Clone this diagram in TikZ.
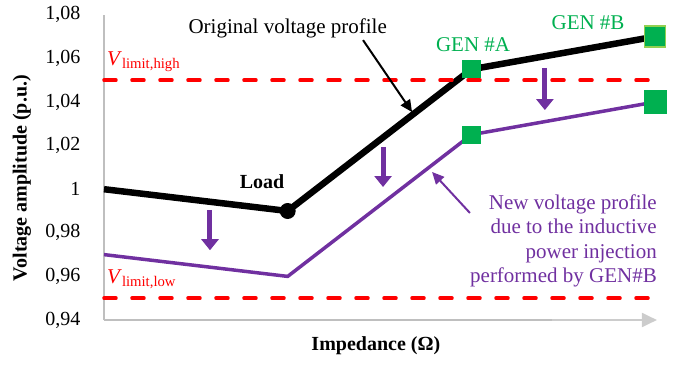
\documentclass[tikz,border=0pt]{standalone}
\usepackage{fontspec}
\setmainfont{Liberation Serif}
\usetikzlibrary{arrows.meta}
\definecolor{vgreen}{RGB}{0,176,80}
\definecolor{lgreen}{RGB}{146,208,80}
\definecolor{vpurple}{RGB}{112,48,160}
\definecolor{vred}{RGB}{255,0,0}
\definecolor{vgrey}{RGB}{191,191,191}

\begin{document}
\begin{tikzpicture}[x=183.7pt, y=21.8pt, font=\fontsize{21}{24.5}\selectfont]
  \tikzset{gen box/.style={draw=#1,fill=vgreen,minimum size=17pt,inner sep=0pt,line width=1.2pt},
           shift arrow/.style={vpurple,line width=5pt,-{Triangle[length=11pt,width=17pt]}},
           limit line/.style={vred,line width=3.5pt,dash pattern=on 12pt off 16pt,line cap=round}}
  \useasboundingbox (-104pt,-45pt) rectangle (569pt,320pt);

  % axes
  \coordinate (O) at (0,0);
  \coordinate (T) at (0,14);
  \coordinate (E) at (2.44,0);
  \coordinate (Etip) at (3.01,0);
  \draw[vgrey, line width=1.2pt] (O) -- (T);
  \draw[vgrey, line width=1.2pt] (O) -- (E);
  \draw[vgrey!80, line width=2pt, -{Triangle[length=15pt,width=14pt]}] (E) -- (Etip);
  \foreach \v/\t in {0/{0,94},2/{0,96},4/{0,98},6/{1},8/{1,02},10/{1,04},12/{1,06},14/{1,08}}
    \node[anchor=east, font=\fontsize{20}{24}\selectfont] (tick\v) at (-20pt,\v) {\t};
  \node[rotate=90, font=\fontsize{20}{24}\selectfont\bfseries] (ylab) at (-82pt,6.51) {Voltage amplitude (p.u.)};
  \node[font=\fontsize{20}{24}\selectfont\bfseries] (xlab) at (1.48,-1.19) {Impedance (Ω)};

  % profiles
  \coordinate (a0) at (0,6);
  \coordinate (load) at (1,5);
  \coordinate (genA) at (2,11.5);
  \coordinate (genB) at (3,13);
  \coordinate (b0) at (0,3);
  \coordinate (b1) at (1,2);
  \coordinate (b2) at (2,8.5);
  \coordinate (b3) at (3,10);
  \draw[line width=6.5pt, line join=round] (a0) -- (load) -- (genA) -- (genB);
  \draw[vpurple, line width=3.5pt] (b0) -- (b1) -- (b2) -- (b3);

  % limits
  \coordinate (hi0) at (0,11);
  \coordinate (hi1) at (3,11);
  \coordinate (lo0) at (0,1);
  \coordinate (lo1) at (3,1);
  \draw[limit line] (hi0) -- (hi1);
  \draw[limit line] (lo0) -- (lo1);
  \node[vred, anchor=west, inner sep=0pt] (vhigh) at (3pt,11.83) {\textit{V}\textsubscript{limit,high}};
  \node[vred, anchor=west, inner sep=0pt] (vlow) at (3pt,1.88) {\textit{V}\textsubscript{limit,low}};

  % buses
  \node[circle, fill, minimum size=16pt, inner sep=0pt] (loaddot) at (load) {};
  \node[font=\fontsize{20}{24}\selectfont\bfseries] (loadlab) at (0.86,6.33) {Load};
  \node[gen box=vgreen] (sqA) at (genA) {};
  \node[gen box=lgreen, minimum size=21pt] (sqB) at (genB) {};
  \node[gen box=vgreen] (sqA2) at (b2) {};
  \node[gen box=vgreen, minimum size=22pt] (sqB2) at (b3) {};
  \node[vgreen] (labA) at (2.009,12.61) {GEN \#A};
  \node[vgreen] (labB) at (2.635,13.62) {GEN \#B};

  % shifts
  \coordinate (s1) at (0.577,5.05);
  \coordinate (e1) at (0.577,3.2);
  \coordinate (s2) at (1.519,7.94);
  \coordinate (e2) at (1.519,6.1);
  \coordinate (s3) at (2.40,11.56);
  \coordinate (e3) at (2.40,9.63);
  \draw[shift arrow] (s1) -- (e1);
  \draw[shift arrow] (s2) -- (e2);
  \draw[shift arrow] (s3) -- (e3);

  % notes
  \node (orig) at (1.0,13.39) {Original voltage profile};
  \coordinate (origtail) at (1.41,12.84);
  \coordinate (origtip) at (1.677,9.54);
  \draw[line width=2pt, -{Triangle[length=12pt,width=11pt]}] (origtail) -- (origtip);
  \node[vpurple, align=right, anchor=east, inner sep=0pt] (newprof) at (553pt,3.62)
    {New voltage profile\\due to the inductive\\power injection\\performed by GEN\#B};
  \coordinate (newtail) at (1.992,4.91);
  \coordinate (newtip) at (1.786,6.79);
  \draw[vpurple, line width=2pt, -{Triangle[length=12pt,width=11pt]}] (newtail) -- (newtip);
\end{tikzpicture}
\end{document}
